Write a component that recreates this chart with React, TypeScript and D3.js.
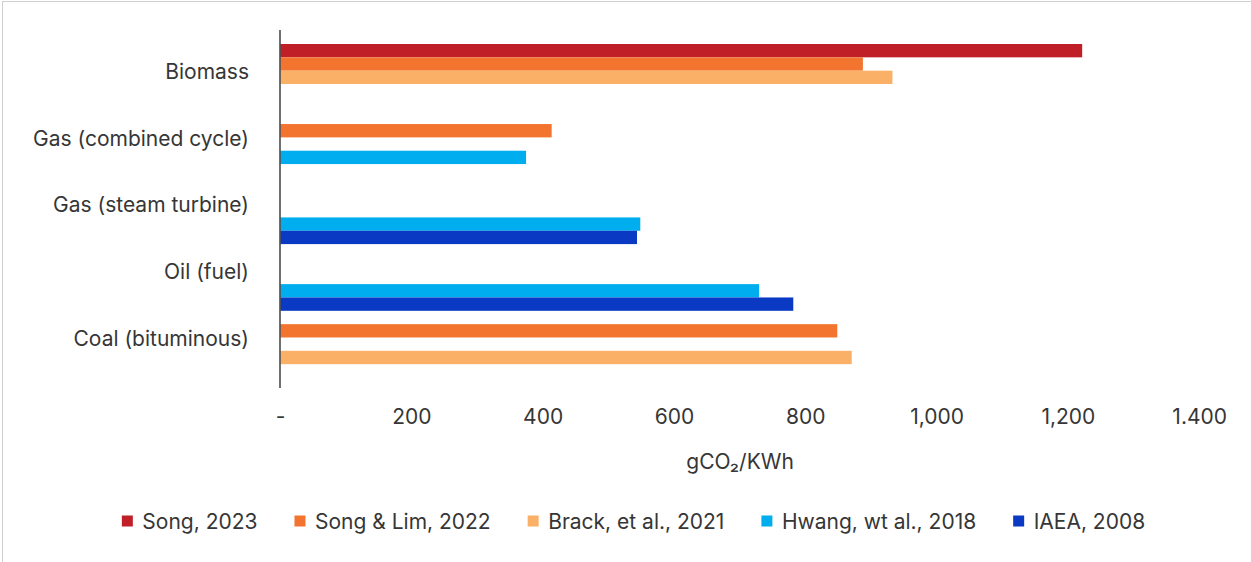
import React, { useEffect, useRef } from "react";
import * as d3 from "d3";

// Emission factors by fuel type, gCO2 per kWh, one array per source
const categories = [
  "Biomass",
  "Gas (combined cycle)",
  "Gas (steam turbine)",
  "Oil (fuel)",
  "Coal (bituminous)",
];
const seriesNames = [
  "Song, 2023",
  "Song & Lim, 2022",
  "Brack, et al., 2021",
  "Hwang, wt al., 2018",
  "IAEA, 2008",
];
const song2023: (number | null)[] = [1221, null, null, null, null];
const songLim2022: (number | null)[] = [887, 413, null, null, 848];
const brack2021: (number | null)[] = [932, null, null, null, null];
const hwang2018: (number | null)[] = [null, 374, 548, 729, 870];
const iaea2008: (number | null)[] = [null, null, 543, 781, null];
const seriesValues = [song2023, songLim2022, brack2021, hwang2018, iaea2008];
const seriesColors = ["#C01F27", "#F3742E", "#FAB067", "#00AEEF", "#0A39C4"];
// single data points filled differently from their series
const pointColors: Record<string, Record<string, string>> = {
  "Hwang, wt al., 2018": { "Coal (bituminous)": "#FAB067" },
};
const xTicks = [0, 200, 400, 600, 800, 1000, 1200, 1400];
const xTickLabels = ["-", "200", "400", "600", "800", "1,000", "1,200", "1.400"];
const xTitle = "gCO\u2082/KWh";

const W = 1251;
const H = 562;
const FONT = "Inter, 'Noto Sans', sans-serif";
const FS = 21;
const TEXT = "#363636";

export default function App() {
  const ref = useRef<SVGSVGElement>(null);

  useEffect(() => {
    const svg = d3.select(ref.current);
    svg.selectAll("*").remove();

    // chart frame
    svg
      .append("rect")
      .attr("x", 2.5)
      .attr("y", 1.5)
      .attr("width", W + 20)
      .attr("height", H + 20)
      .attr("fill", "#fff")
      .attr("stroke", "#d0d0d0")
      .attr("stroke-width", 1);

    const x = d3.scaleLinear().domain([0, 1400]).range([280.5, 1199.7]);
    const y = d3.scaleBand<string>().domain(categories).range([44, 377.5]).padding(0);
    const ySub = d3
      .scaleBand<string>()
      .domain(seriesNames)
      .range([0, y.bandwidth()])
      .padding(0);

    // bars
    seriesNames.forEach((name, si) => {
      const g = svg.append("g");
      categories.forEach((cat, ci) => {
        const v = seriesValues[si][ci];
        if (v == null) return;
        g.append("rect")
          .attr("x", x(0))
          .attr("y", (y(cat) as number) + (ySub(name) as number))
          .attr("width", x(v) - x(0))
          .attr("height", ySub.bandwidth())
          .attr("fill", pointColors[name]?.[cat] ?? seriesColors[si]);
      });
    });

    // vertical category axis line
    svg
      .append("line")
      .attr("x1", x(0) - 0.5)
      .attr("x2", x(0) - 0.5)
      .attr("y1", 30)
      .attr("y2", 388)
      .attr("stroke", "#222")
      .attr("stroke-width", 1.3);

    // category labels
    svg
      .append("g")
      .selectAll("text")
      .data(categories)
      .join("text")
      .attr("x", 249)
      .attr("y", (d) => (y(d) as number) + y.bandwidth() / 2 + 1.5)
      .attr("text-anchor", "end")
      .attr("font-family", FONT)
      .attr("font-size", FS)
      .attr("fill", TEXT)
      .text((d) => d);

    // x tick labels
    svg
      .append("g")
      .selectAll("text")
      .data(xTicks)
      .join("text")
      .attr("x", (d) => x(d))
      .attr("y", 423.5)
      .attr("text-anchor", "middle")
      .attr("font-family", FONT)
      .attr("font-size", FS)
      .attr("fill", TEXT)
      .text((d, i) => xTickLabels[i]);

    // axis title
    svg
      .append("text")
      .attr("x", (x(0) + x(1400)) / 2)
      .attr("y", 469)
      .attr("text-anchor", "middle")
      .attr("font-family", FONT)
      .attr("font-size", FS)
      .attr("fill", TEXT)
      .text(xTitle);

    // legend
    const lg = svg.append("g");
    const items = seriesNames.map((name, i) => {
      const it = lg.append("g");
      it.append("rect")
        .attr("width", 11)
        .attr("height", 11)
        .attr("y", -13)
        .attr("fill", seriesColors[i]);
      const t = it
        .append("text")
        .attr("x", 20.5)
        .attr("font-family", FONT)
        .attr("font-size", FS)
        .attr("fill", TEXT)
        .text(name);
      const w = 20.5 + (t.node() as SVGTextElement).getComputedTextLength();
      return { it, w };
    });
    const gap = 37;
    const total = d3.sum(items, (d) => d.w) + gap * (items.length - 1);
    let cx = 633.5 - total / 2;
    items.forEach(({ it, w }) => {
      it.attr("transform", `translate(${cx},528.5)`);
      cx += w + gap;
    });
  }, []);

  return (
    <svg
      ref={ref}
      width={W}
      height={H}
      style={{ position: "absolute", left: 0, top: 0, background: "#fff" }}
    />
  );
}
